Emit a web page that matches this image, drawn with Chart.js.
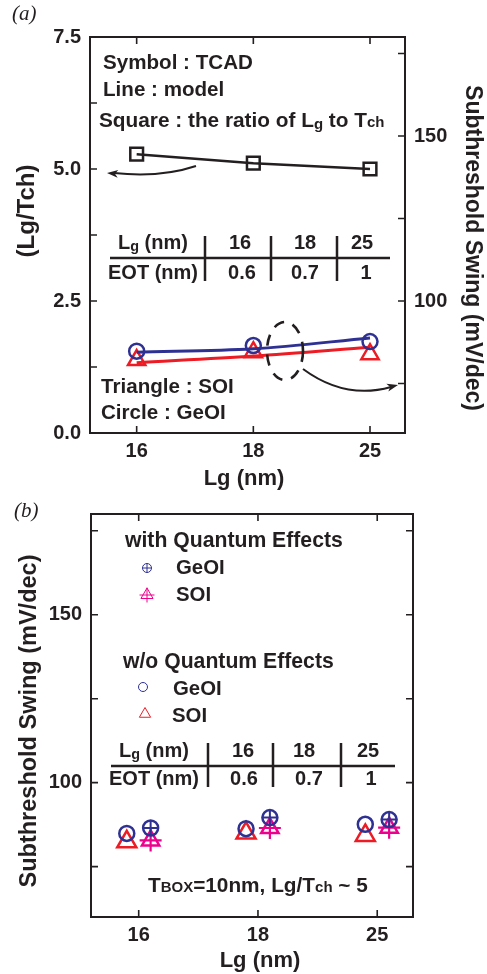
<!DOCTYPE html>
<html>
<head>
<meta charset="utf-8">
<script src="https://cdn.jsdelivr.net/npm/chart.js@4.4.1/dist/chart.umd.min.js"></script>
<style>
  html, body { margin: 0; padding: 0; background: #fff; }
  canvas { position: absolute; left: 0; }
  #chartA { top: 0; }
  #chartB { top: 490px; }
</style>
</head>
<body>
<canvas id="chartA" width="487" height="490"></canvas>
<canvas id="chartB" width="487" height="484"></canvas>
<script>
// ---- data ----
const LG_LABELS = ['16', '18', '25'];
const LG_POS = [0, 1, 2];
const EOT_LABELS = ['0.6', '0.7', '1'];

// panel (a): left axis, ratio Lg/Tch (TCAD squares)
const RATIO_TCAD = [5.28, 5.11, 5.0];
// panel (a): right axis, subthreshold swing (mV/dec)
const SS_GEOI_TCAD = [84.8, 86.5, 87.7];
const SS_SOI_TCAD = [82.1, 84.5, 83.9];
const SS_GEOI_MODEL = [84.5, 85.5, 88.8];
const SS_SOI_MODEL = [81.3, 83.3, 86.0];

// panel (b): subthreshold swing with / without quantum effects
const SS_GEOI_QM = [86.5, 89.6, 89.0];
const SS_SOI_QM = [82.8, 86.5, 86.6];
const SS_GEOI_NOQM = [84.9, 86.3, 87.6];
const SS_SOI_NOQM = [82.4, 85.0, 84.3];

const LEFT_TICKS_A = [0, 1.25, 2.5, 3.75, 5, 6.25, 7.5];
const SS_TICKS = [75, 100, 125, 150, 175];

// ---- styles ----
const INK = '#231f20';
const BLUE = '#2e3192';
const RED = '#ed1c24';
const MAGENTA = '#ec008c';
const FAMILY = '"Liberation Sans", Arial, sans-serif';
const TICK_FONT = { family: FAMILY, size: 20, weight: 'bold' };
const TICK = 7;
const DODGE = 0.1;

const pts = (ys, shift = 0) => LG_POS.map((x, i) => ({ x: x + shift, y: ys[i] }));

function font(size, weight = 'bold') {
  return `${weight} ${size}px ${FAMILY}`;
}

/** draw text made of normal / subscript / small parts, left aligned on a baseline */
function richText(ctx, x, y, parts, size, align = 'left') {
  const sizes = { n: size, s: size * 0.72, k: size * 0.72 };
  const drop = { n: 0, s: 2, k: 0 };
  let total = 0;
  parts.forEach(([t, k]) => { ctx.font = font(sizes[k]); total += ctx.measureText(t).width; });
  let cx = align === 'center' ? x - total / 2 : x;
  ctx.textAlign = 'left';
  ctx.textBaseline = 'alphabetic';
  parts.forEach(([t, k]) => {
    ctx.font = font(sizes[k]);
    ctx.fillText(t, cx, y + drop[k]);
    cx += ctx.measureText(t).width;
  });
}

function rotText(ctx, text, x, y, angle, size) {
  ctx.save();
  ctx.translate(x, y);
  ctx.rotate(angle);
  ctx.font = font(size);
  ctx.textAlign = 'center';
  ctx.textBaseline = 'middle';
  ctx.fillText(text, 0, 0);
  ctx.restore();
}

function arrowHead(ctx, x, y, angle) {
  ctx.save();
  ctx.translate(x, y);
  ctx.rotate(angle);
  ctx.beginPath();
  ctx.moveTo(0, 0);
  ctx.lineTo(-11, -4);
  ctx.lineTo(-8, 0);
  ctx.lineTo(-11, 4);
  ctx.closePath();
  ctx.fill();
  ctx.restore();
}

function drawFrame(chart, leftId, rightId) {
  const { ctx, chartArea: a, scales } = chart;
  ctx.save();
  ctx.strokeStyle = INK;
  ctx.lineWidth = 2;
  ctx.strokeRect(a.left, a.top, a.right - a.left, a.bottom - a.top);
  ctx.lineWidth = 1.6;
  ctx.beginPath();
  scales.x.ticks.forEach(t => {
    const px = scales.x.getPixelForValue(t.value);
    ctx.moveTo(px, a.bottom); ctx.lineTo(px, a.bottom - TICK);
    ctx.moveTo(px, a.top); ctx.lineTo(px, a.top + TICK);
  });
  scales[leftId].ticks.forEach(t => {
    const py = scales[leftId].getPixelForValue(t.value);
    ctx.moveTo(a.left, py); ctx.lineTo(a.left + TICK, py);
  });
  scales[rightId].ticks.forEach(t => {
    const py = scales[rightId].getPixelForValue(t.value);
    ctx.moveTo(a.right, py); ctx.lineTo(a.right - TICK, py);
  });
  ctx.stroke();
  ctx.restore();
}

function drawTable(ctx, o) {
  ctx.save();
  ctx.fillStyle = INK;
  ctx.strokeStyle = INK;
  richText(ctx, o.headX, o.row1, [['L', 'n'], ['g', 's'], [' (nm)', 'n']], 20, 'center');
  richText(ctx, o.headX, o.row2, [['EOT (nm)', 'n']], 20, 'center');
  LG_LABELS.forEach((t, i) => richText(ctx, o.col1[i], o.row1, [[t, 'n']], 20, 'center'));
  EOT_LABELS.forEach((t, i) => richText(ctx, o.col2[i], o.row2, [[t, 'n']], 20, 'center'));
  ctx.lineWidth = 2.5;
  ctx.beginPath();
  ctx.moveTo(o.lineX[0], o.lineY); ctx.lineTo(o.lineX[1], o.lineY);
  o.seps.forEach(sx => { ctx.moveTo(sx, o.sepY[0]); ctx.lineTo(sx, o.sepY[1]); });
  ctx.stroke();
  ctx.restore();
}

function baseScales(leftW, leftTicks, leftMin, leftMax, leftLabel) {
  return {
    x: {
      type: 'linear', min: -0.4, max: 2.3,
      afterBuildTicks: s => { s.ticks = LG_POS.map(v => ({ value: v })); },
      afterFit: s => { s.height = 57; },
      grid: { display: false, drawTicks: false },
      border: { display: false },
      ticks: { callback: v => LG_LABELS[v], color: INK, font: TICK_FONT, padding: 6, maxRotation: 0, autoSkip: false },
    },
    y: {
      position: 'left', min: leftMin, max: leftMax,
      afterBuildTicks: s => { s.ticks = leftTicks.map(v => ({ value: v })); },
      afterFit: s => { s.width = leftW; },
      grid: { display: false, drawTicks: false },
      border: { display: false },
      ticks: { callback: leftLabel, color: INK, font: TICK_FONT, padding: 9, autoSkip: false },
    },
  };
}

// ---- panel (a) ----
const annotA = {
  id: 'annotA',
  afterDraw(chart) {
    const ctx = chart.ctx;
    drawFrame(chart, 'y', 'y2');
    ctx.save();
    ctx.fillStyle = INK;
    ctx.strokeStyle = INK;
    ctx.font = `italic 21px "Liberation Serif", serif`;
    ctx.textAlign = 'left';
    ctx.textBaseline = 'alphabetic';
    ctx.fillText('(a)', 12, 20);

    richText(ctx, 103, 69, [['Symbol : TCAD', 'n']], 20.6);
    richText(ctx, 103, 96, [['Line : model', 'n']], 20.6);
    richText(ctx, 99, 127, [['Square : the ratio of L', 'n'], ['g', 's'], [' to T', 'n'], ['ch', 'k']], 20.8);
    richText(ctx, 101, 393, [['Triangle : SOI', 'n']], 20.6);
    richText(ctx, 101, 419, [['Circle : GeOI', 'n']], 20.6);

    drawTable(ctx, {
      headX: 153, row1: 249, row2: 279,
      col1: [240, 305, 362], col2: [242, 305, 366],
      lineY: 258, lineX: [110, 390],
      seps: [205, 271, 337], sepY: [236, 281],
    });

    // axis titles
    rotText(ctx, '(Lg/Tch)', 27, 211, -Math.PI / 2, 24);
    rotText(ctx, 'Subthreshold Swing (mV/dec)', 472, 248, Math.PI / 2, 23);
    ctx.font = font(22);
    ctx.textAlign = 'center';
    ctx.fillText('Lg (nm)', 244, 485);

    // arrow pointing to left axis
    ctx.lineWidth = 2;
    ctx.beginPath();
    ctx.moveTo(196, 166);
    ctx.quadraticCurveTo(160, 178, 114, 173);
    ctx.stroke();
    arrowHead(ctx, 107, 173, Math.PI + 0.08);

    // dashed ellipse + arrow pointing to right axis
    ctx.lineWidth = 2.6;
    ctx.setLineDash([11, 9]);
    ctx.beginPath();
    ctx.ellipse(285, 351, 18, 29, 0, 0, Math.PI * 2);
    ctx.stroke();
    ctx.setLineDash([]);
    ctx.lineWidth = 2;
    ctx.beginPath();
    ctx.moveTo(303, 369);
    ctx.quadraticCurveTo(345, 400, 391, 387);
    ctx.stroke();
    arrowHead(ctx, 398, 385, -0.25);
    ctx.restore();
  },
};

new Chart(document.getElementById('chartA'), {
  type: 'scatter',
  data: {
    datasets: [
      {
        data: pts(RATIO_TCAD), yAxisID: 'y', showLine: true,
        borderColor: INK, borderWidth: 2.5,
        pointStyle: 'rect', pointRadius: 9, pointBorderWidth: 2.5,
        pointBorderColor: INK, pointBackgroundColor: 'transparent',
      },
      {
        data: pts(SS_GEOI_TCAD), yAxisID: 'y2',
        pointStyle: 'circle', pointRadius: 7.5, pointBorderWidth: 2.5,
        pointBorderColor: BLUE, pointBackgroundColor: 'transparent',
      },
      {
        data: pts(SS_GEOI_MODEL), yAxisID: 'y2', showLine: true,
        borderColor: BLUE, borderWidth: 3, pointRadius: 0, cubicInterpolationMode: 'monotone',
      },
      {
        data: pts(SS_SOI_MODEL), yAxisID: 'y2', showLine: true,
        borderColor: RED, borderWidth: 3, pointRadius: 0, cubicInterpolationMode: 'monotone',
      },
      {
        data: pts(SS_SOI_TCAD), yAxisID: 'y2',
        pointStyle: 'triangle', pointRadius: 10, pointBorderWidth: 2.5,
        pointBorderColor: RED, pointBackgroundColor: 'transparent',
      },
    ],
  },
  options: {
    responsive: false,
    animation: false,
    devicePixelRatio: 1,
    layout: { padding: { top: 37, left: 0, right: 0, bottom: 0 } },
    plugins: { legend: { display: false }, tooltip: { enabled: false } },
    scales: {
      ...baseScales(90, LEFT_TICKS_A, 0, 7.5, v => (v % 2.5 === 0 ? v.toFixed(1) : '')),
      y2: {
        position: 'right', min: 60, max: 180,
        afterBuildTicks: s => { s.ticks = SS_TICKS.map(v => ({ value: v })); },
        afterFit: s => { s.width = 82; },
        grid: { display: false, drawTicks: false },
        border: { display: false },
        ticks: { callback: v => (v % 50 === 0 ? String(v) : ''), color: INK, font: TICK_FONT, padding: 9, autoSkip: false },
      },
    },
  },
  plugins: [annotA],
});

// ---- panel (b) ----
const annotB = {
  id: 'annotB',
  afterDraw(chart) {
    const ctx = chart.ctx;
    const H = Chart.helpers;
    drawFrame(chart, 'y', 'y');
    ctx.save();
    ctx.fillStyle = INK;
    ctx.font = `italic 21px "Liberation Serif", serif`;
    ctx.textAlign = 'left';
    ctx.textBaseline = 'alphabetic';
    ctx.fillText('(b)', 14, 27);

    richText(ctx, 125, 57, [['with Quantum Effects', 'n']], 21.2);
    richText(ctx, 176, 84, [['GeOI', 'n']], 20.4);
    richText(ctx, 176, 111, [['SOI', 'n']], 20.4);
    richText(ctx, 123, 178, [['w/o Quantum Effects', 'n']], 21.2);
    richText(ctx, 173, 205, [['GeOI', 'n']], 20.4);
    richText(ctx, 172, 232, [['SOI', 'n']], 20.4);

    drawTable(ctx, {
      headX: 154, row1: 267, row2: 295,
      col1: [243, 304, 368], col2: [244, 309, 371],
      lineY: 276, lineX: [111, 395],
      seps: [208, 273, 341], sepY: [253, 297],
    });

    richText(ctx, 148, 402, [['T', 'n'], ['BOX', 'k'], ['=10nm, L', 'n'], ['g', 'n'], ['/T', 'n'], ['ch', 'k'], [' ~ 5', 'n']], 20.8);

    rotText(ctx, 'Subthreshold Swing (mV/dec)', 30, 231, -Math.PI / 2, 23.5);
    ctx.font = font(22);
    ctx.textAlign = 'center';
    ctx.fillText('Lg (nm)', 260, 477);

    // legend markers
    const mark = (style, r, w, color, x, y) => {
      ctx.strokeStyle = color;
      ctx.fillStyle = 'transparent';
      H.drawPoint(ctx, { pointStyle: style, radius: r, borderWidth: w, rotation: 0 }, x, y);
    };
    mark('circle', 4.5, 1.6, BLUE, 147, 78);
    mark('cross', 4.5, 1.3, BLUE, 147, 78);
    mark('triangle', 7, 1.6, MAGENTA, 147, 105);
    mark('cross', 7.5, 1.3, MAGENTA, 147, 105);
    mark('circle', 4.5, 1.6, BLUE, 143, 197);
    mark('triangle', 6.5, 1.6, RED, 145, 224);
    ctx.restore();
  },
};

new Chart(document.getElementById('chartB'), {
  type: 'scatter',
  data: {
    datasets: [
      {
        data: pts(SS_GEOI_QM, DODGE), pointStyle: 'circle', pointRadius: 7.5, pointBorderWidth: 2.5,
        pointBorderColor: BLUE, pointBackgroundColor: 'transparent',
      },
      {
        data: pts(SS_GEOI_QM, DODGE), pointStyle: 'cross', pointRadius: 7, pointBorderWidth: 2,
        pointBorderColor: BLUE,
      },
      {
        data: pts(SS_GEOI_NOQM, -DODGE), pointStyle: 'circle', pointRadius: 7.5, pointBorderWidth: 2.5,
        pointBorderColor: BLUE, pointBackgroundColor: 'transparent',
      },
      {
        data: pts(SS_SOI_QM, DODGE), pointStyle: 'cross', pointRadius: 11, pointBorderWidth: 2.2,
        pointBorderColor: MAGENTA,
      },
      {
        data: pts(SS_SOI_QM, DODGE), pointStyle: 'triangle', pointRadius: 10, pointBorderWidth: 2.5,
        pointBorderColor: MAGENTA, pointBackgroundColor: 'transparent',
      },
      {
        data: pts(SS_SOI_NOQM, -DODGE), pointStyle: 'triangle', pointRadius: 11, pointBorderWidth: 2.5,
        pointBorderColor: RED, pointBackgroundColor: 'transparent',
      },
    ],
  },
  options: {
    responsive: false,
    animation: false,
    devicePixelRatio: 1,
    layout: { padding: { top: 24, left: 0, right: 74, bottom: 0 } },
    plugins: { legend: { display: false }, tooltip: { enabled: false } },
    scales: baseScales(91, SS_TICKS, 60, 180, v => (v % 50 === 0 ? String(v) : '')),
  },
  plugins: [annotB],
});
</script>
</body>
</html>
